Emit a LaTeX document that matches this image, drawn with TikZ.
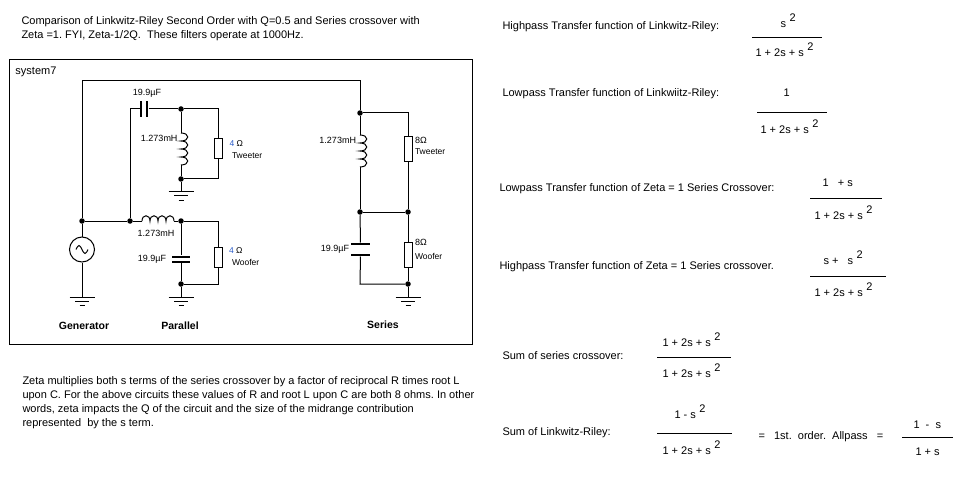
\documentclass[tikz,border=0pt]{standalone}
\usepackage{fontspec}
\setmainfont{Liberation Sans}
\usetikzlibrary{positioning}
\definecolor{ohmblue}{RGB}{40,90,200}
\newcommand{\suptwo}{\hspace{3.5pt}\raisebox{6pt}{2}}
\frenchspacing

\begin{document}
\begin{tikzpicture}[x=1pt,y=-1pt,line width=1pt,
    txt/.style={anchor=base west,inner sep=0pt,font=\fontsize{11}{13}\selectfont},
    val/.style={anchor=base east,inner sep=0pt,font=\fontsize{9}{10}\selectfont},
    spk/.style={anchor=base west,inner sep=0pt,font=\fontsize{8.5}{9}\selectfont},
    circname/.style={anchor=base,inner sep=0pt,font=\fontsize{10.5}{12}\selectfont\bfseries},
    dot/.style={circle,fill,minimum size=5.5pt,inner sep=0pt},
    source/.style={circle,draw,minimum size=25pt,inner sep=0pt},
    res/.style={draw,fill=white,minimum width=8pt,minimum height=#1,inner sep=0pt},
    res/.default=20pt,
    vplate/.style={fill,minimum width=2pt,minimum height=16pt,inner sep=0pt},
    hplate/.style={fill,minimum width=18pt,minimum height=2pt,inner sep=0pt},
    gnd/.pic={\draw (-12.5,0) -- (12.5,0) (-7,4) -- (7,4) (-2.5,8) -- (2.5,8);},
    coilv/.pic={\draw (0,0) .. controls (9,0) and (9,8) .. (0,8)
        .. controls (9,8) and (9,16) .. (0,16)
        .. controls (9,16) and (9,24) .. (0,24)
        .. controls (9,24) and (9,32) .. (0,32);},
    coilh/.pic={\draw (0,0) .. controls (0,-7) and (8,-7) .. (8,0)
        .. controls (8,-7) and (16,-7) .. (16,0)
        .. controls (16,-7) and (24,-7) .. (24,0)
        .. controls (24,-7) and (32,-7) .. (32,0);}]
    \useasboundingbox (0,0) rectangle (971,481);

    \node[txt] (title1) at (21,25) {Comparison of Linkwitz-Riley Second Order with Q=0.5 and Series crossover with};
    \node[txt] (title2) at (21,38.5) {Zeta =1. FYI, Zeta-1/2Q.\ \ These filters operate at 1000Hz.};

    \draw (9,60) rectangle (472,344);
    \node[txt] (sysname) at (15,75) {system7};

    % generator
    \node[dot] (g1) at (82,221) {};
    \node[source] (gen) at (82,249.5) {};
    \draw ([xshift=-6pt]gen.center) sin ++(3,-4) cos ++(3,4) sin ++(3,4) cos ++(3,-4);
    \coordinate (gtop) at (82,81);
    \coordinate (ggnd) at (82,297);
    \node[dot] (s1) at (360,113) {};
    \node[dot] (p1) at (130,221) {};
    \draw (gen) -- (g1) -- (gtop) -| (s1);
    \draw (gen) -- (ggnd);
    \pic at (ggnd) {gnd};
    \draw (g1) -- (p1);

    % parallel, tweeter branch
    \coordinate (p1top) at (130,109);
    \node[vplate] (c1a) at (141,109) {};
    \node[vplate] (c1b) at (147,109) {};
    \node[dot] (p2) at (181,109) {};
    \node[res] (r1) at (218,149) {};
    \coordinate (l1a) at (181,133);
    \coordinate (l1b) at (181,165);
    \node[dot] (p3) at (181,179) {};
    \coordinate (p3g) at (181,192);
    \draw (p1) -- (p1top) -- (c1a);
    \draw (c1b) -- (p2) -| (r1);
    \draw (r1) |- (p3);
    \draw (p2) -- (l1a);
    \pic at (l1a) {coilv};
    \draw (l1b) -- (p3) -- (p3g);
    \pic at (p3g) {gnd};
    \node[val,anchor=base] (c1val) at (147,96) {19.9µF};
    \node[val] (l1val) at (178,141.5) {1.273mH};
    \node[spk] (r1val) at (229,146.5) {\textcolor{ohmblue}{4} Ω};
    \node[spk] (r1name) at (231.5,158.5) {Tweeter};

    % parallel, woofer branch
    \coordinate (l2a) at (142,221);
    \coordinate (l2b) at (174,221);
    \node[dot] (p4) at (181,221) {};
    \node[hplate] (c2a) at (181,256.5) {};
    \node[hplate] (c2b) at (181,261.5) {};
    \node[res] (r2) at (218,257) {};
    \node[dot] (p5) at (181,284) {};
    \coordinate (p5g) at (181,297);
    \draw (p1) -- (l2a);
    \pic at (l2a) {coilh};
    \draw (l2b) -- (p4) -| (r2);
    \draw (r2) |- (p5);
    \draw (p4) -- (c2a);
    \draw (c2b) -- (p5) -- (p5g);
    \pic at (p5g) {gnd};
    \node[val,anchor=base] (l2val) at (156,236) {1.273mH};
    \node[val] (c2val) at (166.5,261) {19.9µF};
    \node[spk] (r2val) at (228.5,253.5) {\textcolor{ohmblue}{4} Ω};
    \node[spk] (r2name) at (231.5,265.5) {Woofer};

    % series
    \node[res=25pt] (r3) at (408,149.5) {};
    \coordinate (l3a) at (360,135);
    \coordinate (l3b) at (360,167);
    \node[dot] (s2) at (360,212) {};
    \node[dot] (s3) at (408,212) {};
    \node[hplate,minimum width=19pt] (c3a) at (360.5,244) {};
    \node[hplate,minimum width=19pt] (c3b) at (360.5,255) {};
    \node[res=25pt] (r4) at (408,254.5) {};
    \coordinate (s4) at (360,284);
    \node[dot] (s5) at (408,284) {};
    \coordinate (s5g) at (408,297);
    \draw (s1) -| (r3);
    \draw (r3) -- (s3);
    \draw (s1) -- (l3a);
    \pic at (l3a) {coilv};
    \draw (l3b) -- (s2) -- (s3);
    \draw (s2) -- (c3a);
    \draw (c3b) -- (s4) -- (s5);
    \draw (s3) -- (r4) -- (s5) -- (s5g);
    \pic at (s5g) {gnd};
    \node[val] (l3val) at (356.5,143.5) {1.273mH};
    \node[val] (c3val) at (349.5,251.5) {19.9µF};
    \node[spk,font=\fontsize{9}{10}\selectfont] (r3val) at (414.5,143.5) {8Ω};
    \node[spk] (r3name) at (414.5,155) {Tweeter};
    \node[spk,font=\fontsize{9}{10}\selectfont] (r4val) at (414.5,245.5) {8Ω};
    \node[spk] (r4name) at (414.5,259) {Woofer};

    \node[circname] (genname) at (84,329) {Generator};
    \node[circname] (parname) at (180,329) {Parallel};
    \node[circname] (sername) at (383,328.5) {Series};

    \node[txt] (note1) at (22,384) {Zeta multiplies both s terms of the series crossover by a factor of reciprocal R times root L};
    \node[txt] (note2) at (22,398) {upon C. For the above circuits these values of R and root L upon C are both 8 ohms. In other};
    \node[txt] (note3) at (22,412) {words, zeta impacts the Q of the circuit and the size of the midrange contribution};
    \node[txt] (note4) at (22,426) {represented\ \ by the s term.};

    % transfer functions
    \node[txt] (hplr) at (502,29.5) {Highpass Transfer function of Linkwitz-Riley:};
    \node[txt] (hplrnum) at (780,28) {s\suptwo};
    \draw (752,37.3) -- (822,37.3);
    \node[txt] (hplrden) at (755,57) {1 + 2s + s\suptwo};

    \node[txt] (lplr) at (502,96.5) {Lowpass Transfer function of Linkwiitz-Riley:};
    \node[txt] (lplrnum) at (783,96.7) {1};
    \draw (757,112.7) -- (827,112.7);
    \node[txt] (lplrden) at (760,134) {1 + 2s + s\suptwo};

    \node[txt] (lpz) at (499,191.7) {Lowpass Transfer function of Zeta = 1 Series Crossover:};
    \node[txt] (lpznum) at (822,186.7) {1\ \ \ + s};
    \draw (810,198.3) -- (882,198.3);
    \node[txt] (lpzden) at (814,219) {1 + 2s + s\suptwo};

    \node[txt] (hpz) at (499,269.3) {Highpass Transfer function of Zeta = 1 Series crossover.};
    \node[txt] (hpznum) at (823,264) {s +\ \ \ s\suptwo};
    \draw (810,276.7) -- (886,276.7);
    \node[txt] (hpzden) at (814,296.7) {1 + 2s + s\suptwo};

    \node[txt] (sumser) at (502,359) {Sum of series crossover:};
    \node[txt] (sumsernum) at (662,346.7) {1 + 2s + s\suptwo};
    \draw (657,357.3) -- (731,357.3);
    \node[txt] (sumserden) at (662,377.3) {1 + 2s + s\suptwo};

    \node[txt] (sumlr) at (502,435) {Sum of Linkwitz-Riley:};
    \node[txt] (sumlrnum) at (674,418.3) {1 - s\suptwo};
    \draw (657,433.3) -- (732,433.3);
    \node[txt] (sumlrden) at (662,454) {1 + 2s + s\suptwo};
    \node[txt] (allpass) at (758,439) {=\ \ \ 1st.\ \ order.\ \ Allpass\ \ \ =};
    \node[txt] (apnum) at (913,428) {1\ \ -\ \ s};
    \draw (902,437.3) -- (953,437.3);
    \node[txt] (apden) at (915,455) {1 + s};
\end{tikzpicture}
\end{document}
